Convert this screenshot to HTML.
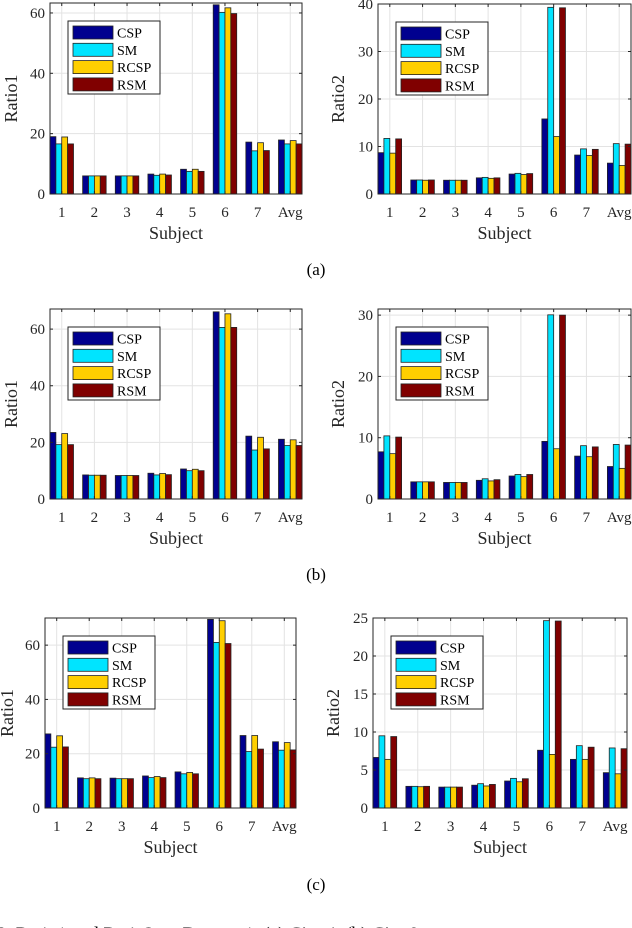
<!DOCTYPE html>
<html><head><meta charset="utf-8"><style>
html,body{margin:0;padding:0;background:#fff;}
svg{display:block;}
svg text{font-family:"Liberation Serif","Times New Roman",serif;}
</style></head><body>
<svg id="fig" width="632" height="928" viewBox="0 0 632 928" xmlns="http://www.w3.org/2000/svg" font-family="Liberation Serif, serif"></svg>
<script>
const categories = ["1","2","3","4","5","6","7","Avg"];
const seriesNames = ["CSP","SM","RCSP","RSM"];
// (a)
const a1CSP = [19.0,6.0,6.0,6.6,8.2,62.7,17.2,17.9];
const a1SM = [16.6,6.0,6.0,6.2,7.5,60.2,14.3,16.6];
const a1RCSP = [18.9,6.0,6.0,6.6,8.2,61.7,17.0,17.7];
const a1RSM = [16.6,6.0,6.0,6.3,7.5,59.8,14.4,16.6];
const a2CSP = [8.7,2.95,2.9,3.4,4.2,15.8,8.2,6.5];
const a2SM = [11.7,2.95,2.9,3.5,4.35,39.3,9.5,10.6];
const a2RCSP = [8.6,2.9,2.9,3.3,4.1,12.1,8.1,6.0];
const a2RSM = [11.6,2.95,2.9,3.4,4.3,39.2,9.4,10.5];
// (b)
const b1CSP = [23.5,8.5,8.3,9.1,10.6,66.1,22.2,21.1];
const b1SM = [19.2,8.4,8.3,8.5,10.0,60.6,17.3,18.9];
const b1RCSP = [23.1,8.4,8.3,9.0,10.5,65.4,21.8,20.9];
const b1RSM = [19.2,8.4,8.3,8.6,10.0,60.6,17.7,18.9];
const b2CSP = [7.7,2.8,2.7,3.05,3.75,9.4,7.0,5.3];
const b2SM = [10.3,2.8,2.7,3.3,4.0,30.05,8.7,8.9];
const b2RCSP = [7.4,2.8,2.7,2.95,3.65,8.2,6.9,5.0];
const b2RSM = [10.1,2.8,2.7,3.15,4.0,30.0,8.5,8.8];
// (c)
const c1CSP = [27.3,11.1,11.0,11.8,13.3,69.5,26.7,24.4];
const c1SM = [22.4,10.8,10.8,11.2,12.6,61.0,20.8,21.3];
const c1RCSP = [26.6,11.1,10.8,11.6,13.1,69.0,26.7,24.1];
const c1RSM = [22.5,10.8,10.8,11.2,12.6,60.6,21.7,21.4];
const c2CSP = [6.65,2.85,2.75,3.0,3.55,7.6,6.4,4.65];
const c2SM = [9.5,2.85,2.75,3.2,3.9,24.65,8.2,7.9];
const c2RCSP = [6.4,2.8,2.75,2.9,3.45,7.05,6.4,4.5];
const c2RSM = [9.4,2.85,2.75,3.1,3.85,24.6,8.0,7.8];
const ticks1a = [0,20,40,60];
const ticks2a = [0,10,20,30,40];
const ticks1b = [0,20,40,60];
const ticks2b = [0,10,20,30];
const ticks1c = [0,20,40,60];
const ticks2c = [0,5,10,15,20,25];

const colors = ["#00008f","#00e4ff","#ffcf00","#800000"];
const NS = "http://www.w3.org/2000/svg";
const svg = document.getElementById("fig");
function mk(tag, attrs, parent, txt){
  const e = document.createElementNS(NS, tag);
  for (const k in attrs) e.setAttribute(k, attrs[k]);
  if (tag === "text") e.setAttribute("font-family", "Liberation Serif, serif");
  if (txt !== undefined) e.textContent = txt;
  (parent || svg).appendChild(e);
  return e;
}

function panel(id, L, R, T, B, ymax, ticks, ylabel, series, ylabX){
  const g = mk("g", {});
  
  
  const xmin = 0.64, xmax = 8.36;
  const xs = v => L + (v - xmin) / (xmax - xmin) * (R - L);
  const ys = v => B - v / ymax * (B - T);
  ticks.forEach(t => {
    if (t > 0 && t < ymax) {
      const gl = mk("line", {x1:L, x2:R, y1:ys(t), y2:ys(t), stroke:"#e3e3e3", "stroke-width":1}, g);
      
      
    }
  });
  categories.forEach((c, i) => {
    const gl = mk("line", {x1:xs(i+1), x2:xs(i+1), y1:T, y2:B, stroke:"#e3e3e3", "stroke-width":1}, g);
    
    
  });
  const bw = 0.18;
  series.forEach((vals, s) => {
    vals.forEach((v, i) => {
      const x0 = xs(i + 1 - 0.36 + s * bw);
      const x1 = xs(i + 1 - 0.36 + (s + 1) * bw);
      const r = mk("rect", {x:x0, y:ys(v), width:x1 - x0, height:B - ys(v), fill:colors[s], stroke:"#222", "stroke-width":0.8}, g);
      
      
    });
  });
  const box = mk("rect", {x:L, y:T, width:R - L, height:B - T, fill:"none", stroke:"#262626", "stroke-width":1}, g);
  
  
  ticks.forEach(t => {
    mk("line", {x1:L, x2:L + 3, y1:ys(t), y2:ys(t), stroke:"#262626"}, g);
    mk("line", {x1:R, x2:R - 3, y1:ys(t), y2:ys(t), stroke:"#262626"}, g);
    const tl = mk("text", {x:L - 5, y:ys(t) + 5, "text-anchor":"end", "font-size":15, fill:"#262626"}, g, String(t));
    
    
  });
  categories.forEach((c, i) => {
    mk("line", {x1:xs(i+1), x2:xs(i+1), y1:B, y2:B - 3, stroke:"#262626"}, g);
    mk("line", {x1:xs(i+1), x2:xs(i+1), y1:T, y2:T + 3, stroke:"#262626"}, g);
    const tl = mk("text", {x:xs(i+1), y:B + 23, "text-anchor":"middle", "font-size":15, fill:"#262626"}, g, c);
    
    
  });
  const xl = mk("text", {x:(L + R) / 2, y:B + 45, "text-anchor":"middle", "font-size":18, fill:"#262626"}, g, "Subject");
  
  
  const yc = (T + B) / 2;
  const yl = mk("text", {x:ylabX, y:yc, "text-anchor":"middle", "font-size":18, fill:"#262626", transform:"rotate(-90 " + ylabX + " " + yc + ")"}, g, ylabel);
  
  
  const lx = L + 18, ly = T + 18;
  const lg = mk("g", {}, g);
  
  
  mk("rect", {x:lx, y:ly, width:92, height:73, fill:"#fff", stroke:"#262626", "stroke-width":1}, lg);
  seriesNames.forEach((n, s) => {
    const e = mk("g", {}, lg);
    
    
    mk("rect", {x:lx + 5, y:ly + 5 + s * 17.3, width:40, height:13, fill:colors[s], stroke:"#222", "stroke-width":0.8}, e);
    mk("text", {x:lx + 49, y:ly + 16.5 + s * 17.3, "font-size":14, fill:"#000"}, e, n);
  });
}

panel("a-ratio1", 50, 302, 3, 194, 63.3, ticks1a, "Ratio1", [a1CSP,a1SM,a1RCSP,a1RSM], 17);
panel("a-ratio2", 378, 631, 4, 194, 40, ticks2a, "Ratio2", [a2CSP,a2SM,a2RCSP,a2RSM], 344);
panel("b-ratio1", 50, 302, 309, 499, 67.1, ticks1b, "Ratio1", [b1CSP,b1SM,b1RCSP,b1RSM], 17);
panel("b-ratio2", 378, 631, 309, 499, 31.0, ticks2b, "Ratio2", [b2CSP,b2SM,b2RCSP,b2RSM], 344);
panel("c-ratio1", 45, 296, 618, 808, 70.0, ticks1c, "Ratio1", [c1CSP,c1SM,c1RCSP,c1RSM], 13);
panel("c-ratio2", 373, 627, 618, 808, 25, ticks2c, "Ratio2", [c2CSP,c2SM,c2RCSP,c2RSM], 339);

[["(a)",275],["(b)",580],["(c)",890]].forEach(([t, y]) => {
  const c = mk("text", {x:316, y:y, "text-anchor":"middle", "font-size":17, fill:"#000"}, svg, t);
  
  
});
const cap = mk("text", {x:-38, y:940, "font-size":19, fill:"#000"}, svg, "Fig. 3.   Ratio1 and Ratio2 on Dataset 1. (a) C′ = 4, (b) C′ = 8");


</script>
</body></html>
